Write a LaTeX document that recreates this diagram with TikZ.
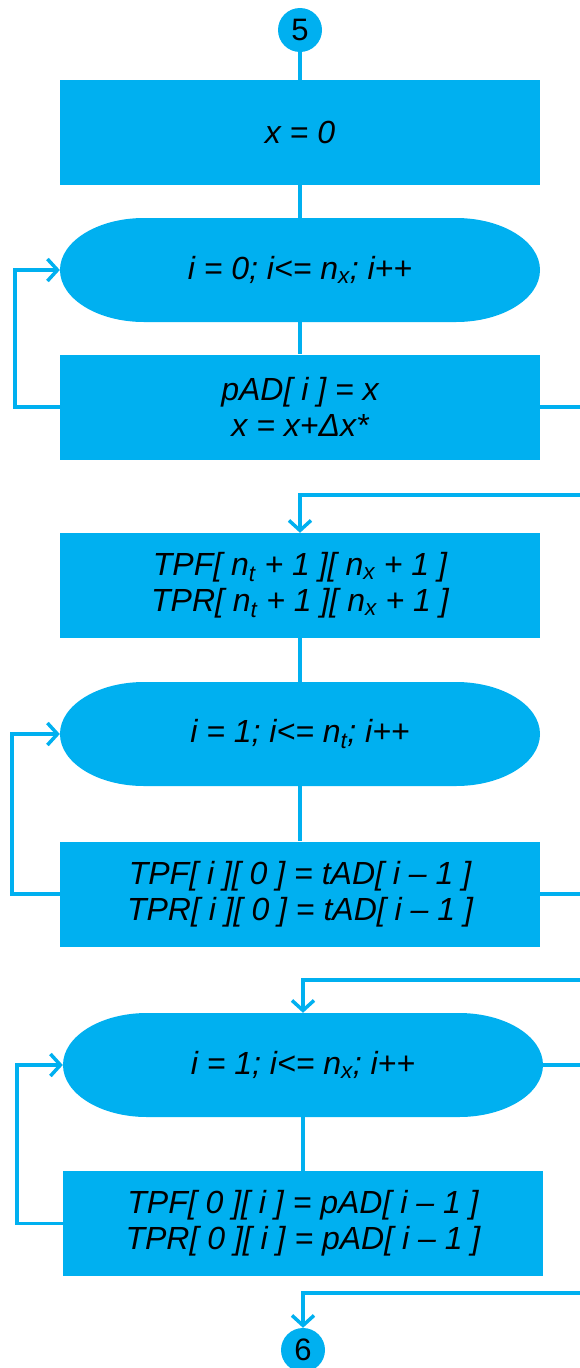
\documentclass[tikz,border=0pt]{standalone}
\usepackage{fontspec}
\setmainfont{Liberation Sans}
\usetikzlibrary{arrows.meta}
\definecolor{flowblue}{HTML}{00B0F0}
\tikzset{
  flow/.style={draw=flowblue, line width=3.5pt},
  flowarrow/.style={flow, -{Straight Barb[length=10pt, width=22pt, line width=3.5pt]}},
  stepbox/.style={fill=flowblue, minimum width=480pt, minimum height=105pt, inner sep=0pt,
    align=center, font=\fontsize{32}{36}\selectfont\itshape},
  loopbox/.style={minimum width=480pt, minimum height=104pt, inner sep=0pt,
    align=center, font=\fontsize{32}{36}\selectfont\itshape,
    path picture={\fill[flowblue]
      ([xshift=84pt]path picture bounding box.north west)
      -- ([xshift=-84pt]path picture bounding box.north east)
      arc[start angle=90, end angle=-90, x radius=84pt, y radius=52pt]
      -- ([xshift=84pt]path picture bounding box.south west)
      arc[start angle=270, end angle=90, x radius=84pt, y radius=52pt] -- cycle;}},
  connector/.style={circle, fill=flowblue, minimum size=44pt, inner sep=0pt,
    font=\fontsize{31}{35}\selectfont}
}
\begin{document}
\begin{tikzpicture}[x=1pt, y=-1pt]
  \useasboundingbox (0, 0) rectangle (579, 1368);
  \node[connector] (c5) at (300, 30) {5};
  \node[stepbox] (init) at (300, 132.5) {x = 0};
  \node[loopbox] (loopx) at (300, 270) {i = 0; i<= n\textsubscript{x}; i++};
  \node[stepbox] (fillp) at (300, 407) {pAD[ i ] = x\\x = x+Δx*};
  \node[stepbox] (alloc) at (300, 585.5) {TPF[ n\textsubscript{t} + 1 ][ n\textsubscript{x} + 1 ]\\TPR[ n\textsubscript{t} + 1 ][ n\textsubscript{x} + 1 ]};
  \node[loopbox] (loopt) at (300, 734) {i = 1; i<= n\textsubscript{t}; i++};
  \node[stepbox] (fillt) at (300, 894) {TPF[ i ][ 0 ] = tAD[ i – 1 ]\\TPR[ i ][ 0 ] = tAD[ i – 1 ]};
  \node[loopbox] (loopn) at (303, 1065) {i = 1; i<= n\textsubscript{x}; i++};
  \node[stepbox] (fillx) at (303, 1223.5) {TPF[ 0 ][ i ] = pAD[ i – 1 ]\\TPR[ 0 ][ i ] = pAD[ i – 1 ]};
  \node[connector] (c6) at (303, 1350) {6};
  \coordinate (out1) at (590, 407);
  \coordinate (in1) at (590, 495);
  \coordinate (out2) at (590, 894);
  \coordinate (in2) at (590, 980);
  \coordinate (out3) at (590, 1065);
  \coordinate (in3) at (590, 1293);
  \draw[flow] (c5) -- (init);
  \draw[flow] (init) -- (loopx);
  \draw[flow] (loopx) -- (fillp);
  \draw[flowarrow] (fillp.west) -- ++(-45, 0) |- (loopx.west);
  \draw[flow] (fillp.east) -- (out1);
  \draw[flowarrow] (in1) -| (alloc.north);
  \draw[flow] (alloc) -- (loopt);
  \draw[flow] (loopt) -- (fillt);
  \draw[flowarrow] (fillt.west) -- ++(-48, 0) |- (loopt.west);
  \draw[flow] (fillt.east) -- (out2);
  \draw[flowarrow] (in2) -| (loopn.north);
  \draw[flow] (loopn.east) -- (out3);
  \draw[flow] (loopn) -- (fillx);
  \draw[flowarrow] (fillx.west) -- ++(-46, 0) |- (loopn.west);
  \draw[flowarrow] (in3) -| (c6.north);
\end{tikzpicture}
\end{document}
